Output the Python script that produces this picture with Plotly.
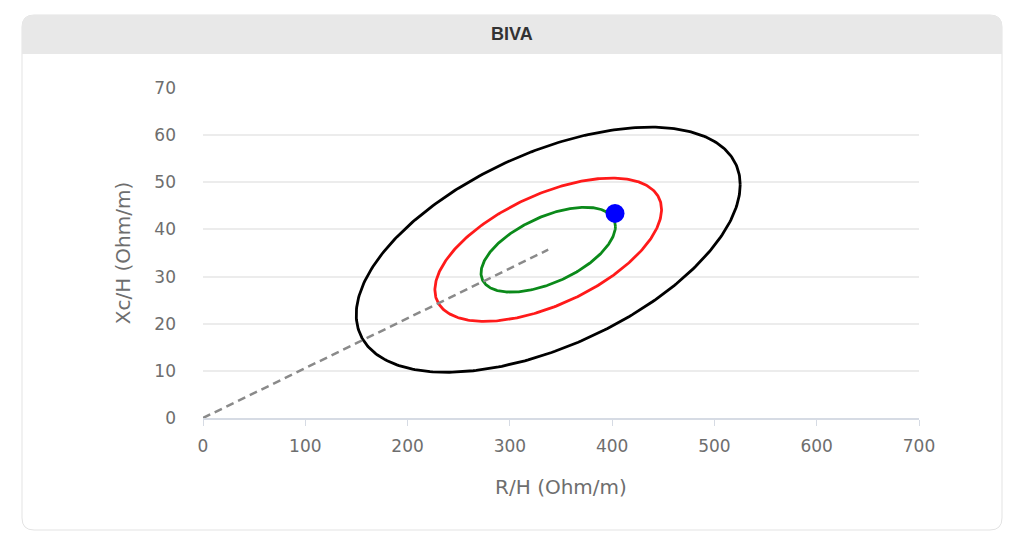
import numpy as np
import plotly.graph_objects as go

# BIVA tolerance ellipses: centre, half-extents, correlation
center_rh = 337.5
center_xch = 35.7
ellipse_sx = [187.7, 110.8, 65.7]   # half-width in R/H units
ellipse_sy = [26.0, 15.2, 9.0]      # half-height in Xc/H units
ellipse_rho = [0.53, 0.56, 0.55]
ellipse_colors = ["#000000", "#ff1a1a", "#0b8a1a"]

# dashed vector from origin to the mean
vector_rh = [0, 337.5]
vector_xch = [0, 35.7]

# patient point
point_rh = [402.8]
point_xch = [43.4]

x_ticks = [0, 100, 200, 300, 400, 500, 600, 700]
y_ticks = [0, 10, 20, 30, 40, 50, 60, 70]

W, H = 1024, 546
OFF = 8  # page body margin
L, R, T, B = 203, 919, 88, 418  # plot area as seen on the page


def px(x):
    return (x - L) / (R - L)


def py(y):
    return (B - y) / (B - T)


def rounded_path(x0, y0, x1, y1, r, top_only=False):
    # rounded rectangle in page pixels -> paper coords
    rx = r / (R - L)
    ry = r / (B - T)
    a, b, c, d = px(x0), py(y0), px(x1), py(y1)
    if top_only:
        return (f"M {a},{d} L {a},{b - ry} Q {a},{b} {a + rx},{b} "
                f"L {c - rx},{b} Q {c},{b} {c},{b - ry} L {c},{d} Z")
    return (f"M {a},{b - ry} Q {a},{b} {a + rx},{b} L {c - rx},{b} Q {c},{b} {c},{b - ry} "
            f"L {c},{d + ry} Q {c},{d} {c - rx},{d} L {a + rx},{d} Q {a},{d} {a},{d + ry} Z")


fig = go.Figure()

t = np.linspace(0, 2 * np.pi, 361)
for sx, sy, rho, col in zip(ellipse_sx, ellipse_sy, ellipse_rho, ellipse_colors):
    ex = center_rh + sx * np.cos(t)
    ey = center_xch + sy * (rho * np.cos(t) + np.sqrt(1 - rho ** 2) * np.sin(t))
    fig.add_trace(go.Scatter(x=ex, y=ey, mode="lines",
                             line=dict(color=col, width=2.8), hoverinfo="skip"))

fig.add_trace(go.Scatter(x=vector_rh, y=vector_xch, mode="lines",
                         line=dict(color="#8a8a8a", width=2.5, dash="8px,5px")))

fig.add_trace(go.Scatter(x=point_rh, y=point_xch, mode="markers",
                         marker=dict(color="#0000ff", size=19)))

shapes = [
    dict(type="path", xref="paper", yref="paper", layer="below",
         path=rounded_path(22, 15, 1002, 530, 12),
         fillcolor="white", line=dict(color="#e3e3e3", width=1)),
    dict(type="path", xref="paper", yref="paper", layer="below",
         path=rounded_path(22, 15, 1002, 54, 12, top_only=True),
         fillcolor="#e8e8e8", line=dict(width=0)),
]

tick_font = dict(family="DejaVu Sans", size=17, color="#6e6e6e")
title_font = dict(family="DejaVu Sans", size=20, color="#6e6e6e")

fig.update_layout(
    width=W, height=H,
    margin=dict(l=L - OFF, r=W - R + OFF, t=T - OFF, b=H - B + OFF),
    paper_bgcolor="white",
    plot_bgcolor="rgba(0,0,0,0)",
    showlegend=False,
    shapes=shapes,
    annotations=[dict(text="<b>BIVA</b>", xref="paper", yref="paper",
                      x=px(512), y=py(34), xanchor="center", yanchor="middle",
                      showarrow=False,
                      font=dict(family="Liberation Sans, Arial", size=18, color="#333333"))],
    xaxis=dict(range=[0, 700], tickvals=x_ticks, showgrid=False, zeroline=False,
               showline=True, linecolor="#d6dbe4", linewidth=2,
               ticks="outside", ticklen=6, tickcolor="#d6dbe4", ticklabelstandoff=6,
               tickfont=tick_font,
               title=dict(text="R/H (Ohm/m)", standoff=25, font=title_font), fixedrange=True),
    yaxis=dict(range=[0, 70], tickvals=y_ticks, showgrid=True, gridcolor="#ececec",
               gridwidth=1.5, zeroline=False, showline=False, ticklabelstandoff=26,
               tickfont=tick_font,
               title=dict(text="Xc/H (Ohm/m)", standoff=18, font=title_font), fixedrange=True),
)

fig.write_html("out.html")
